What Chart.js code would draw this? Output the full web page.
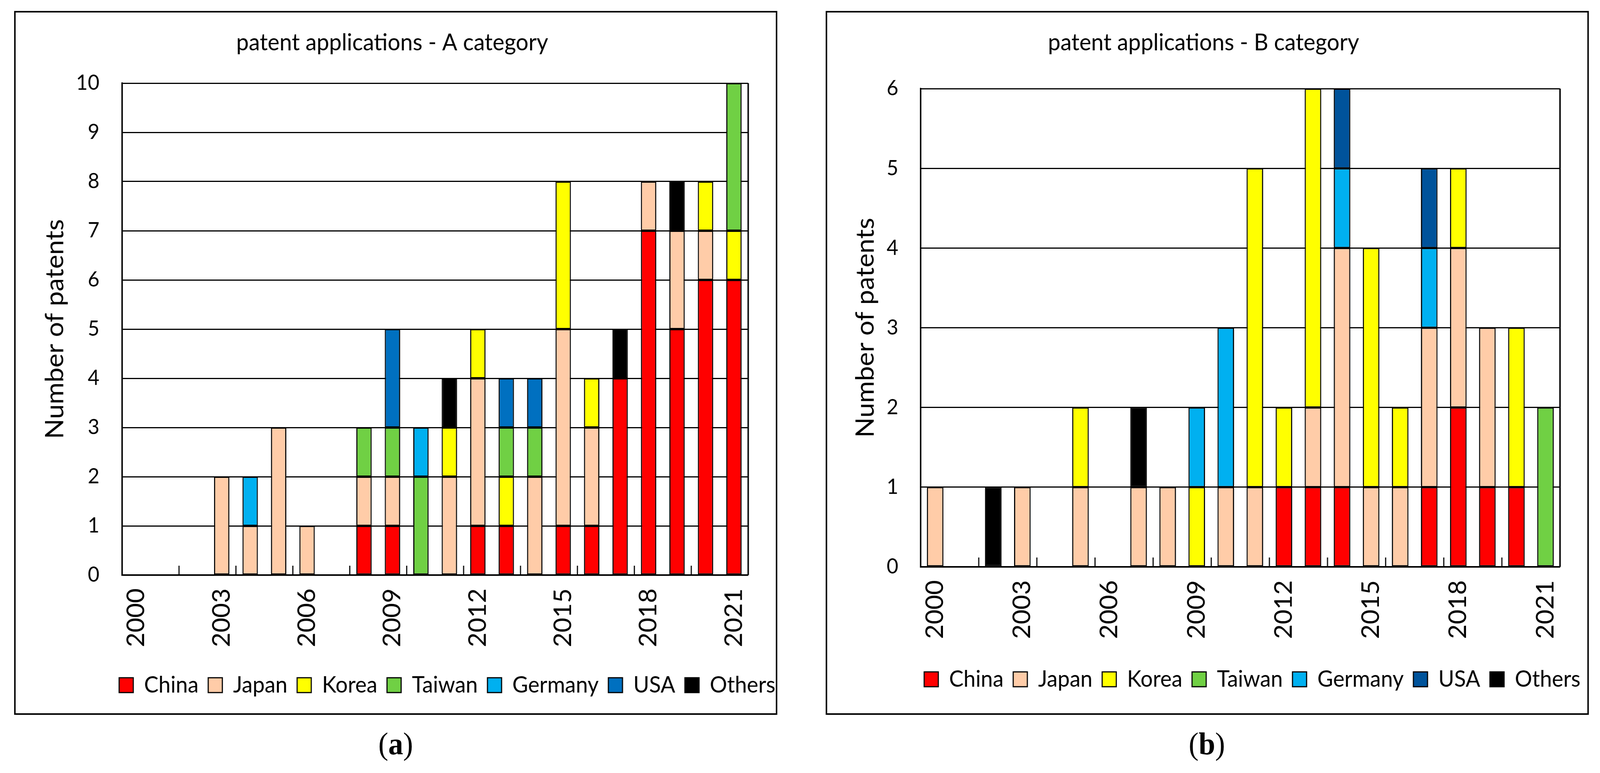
<!DOCTYPE html>
<html lang="en">
<head>
<meta charset="UTF-8">
<title>patent applications</title>
<script src="https://cdn.jsdelivr.net/npm/chart.js"></script>
<style>
  html, body { margin: 0; background: #fff; overflow: hidden; }
  #stage { position: absolute; left: 0; top: 0; width: 4298px; height: 1980px; transform-origin: 0 0; background: #fff; }
  .panel { position: absolute; top: 28px; width: 2050px; height: 1803px; border: 4px solid #000; box-sizing: border-box; background: #fff; }
  .panel canvas { position: absolute; left: 0; top: 0; }
  .caption { position: absolute; top: 1855px; width: 300px; margin-left: -150px; text-align: center;
             font-family: 'Liberation Serif', serif; font-size: 80px; line-height: 100px; color: #000; }
</style>
</head>
<body>
<div id="stage">
  <div class="panel" style="left:38px"><canvas id="chartA" width="2042" height="1795"></canvas></div>
  <div class="panel" style="left:2218px"><canvas id="chartB" width="2042" height="1795"></canvas></div>
  <div class="caption" style="left:1063px">(<b>a</b>)</div>
  <div class="caption" style="left:3242px">(<b>b</b>)</div>
</div>
<script>
const FONT = 'Lato';

const years = ['2000', '2001', '2002', '2003', '2004', '2005', '2006', '2007', '2008', '2009', '2010',
               '2011', '2012', '2013', '2014', '2015', '2016', '2017', '2018', '2019', '2020', '2021'];
const labelEvery = 3;   // only every third year is labelled
const countries = ['China', 'Japan', 'Korea', 'Taiwan', 'Germany', 'USA', 'Others'];

// A category
const chinaA   = [0, 0, 0, 0, 0, 0, 0, 0, 1, 1, 0, 0, 1, 1, 0, 1, 1, 4, 7, 5, 6, 6];
const japanA   = [0, 0, 0, 2, 1, 3, 1, 0, 1, 1, 0, 2, 3, 0, 2, 4, 2, 0, 1, 2, 1, 0];
const koreaA   = [0, 0, 0, 0, 0, 0, 0, 0, 0, 0, 0, 1, 1, 1, 0, 3, 1, 0, 0, 0, 1, 1];
const taiwanA  = [0, 0, 0, 0, 0, 0, 0, 0, 1, 1, 2, 0, 0, 1, 1, 0, 0, 0, 0, 0, 0, 3];
const germanyA = [0, 0, 0, 0, 1, 0, 0, 0, 0, 0, 1, 0, 0, 0, 0, 0, 0, 0, 0, 0, 0, 0];
const usaA     = [0, 0, 0, 0, 0, 0, 0, 0, 0, 2, 0, 0, 0, 1, 1, 0, 0, 0, 0, 0, 0, 0];
const othersA  = [0, 0, 0, 0, 0, 0, 0, 0, 0, 0, 0, 1, 0, 0, 0, 0, 0, 1, 0, 1, 0, 0];

// B category
const chinaB   = [0, 0, 0, 0, 0, 0, 0, 0, 0, 0, 0, 0, 1, 1, 1, 0, 0, 1, 2, 1, 1, 0];
const japanB   = [1, 0, 0, 1, 0, 1, 0, 1, 1, 0, 1, 1, 0, 1, 3, 1, 1, 2, 2, 2, 0, 0];
const koreaB   = [0, 0, 0, 0, 0, 1, 0, 0, 0, 1, 0, 4, 1, 4, 0, 3, 1, 0, 1, 0, 2, 0];
const taiwanB  = [0, 0, 0, 0, 0, 0, 0, 0, 0, 0, 0, 0, 0, 0, 0, 0, 0, 0, 0, 0, 0, 2];
const germanyB = [0, 0, 0, 0, 0, 0, 0, 0, 0, 1, 2, 0, 0, 0, 1, 0, 0, 1, 0, 0, 0, 0];
const usaB     = [0, 0, 0, 0, 0, 0, 0, 0, 0, 0, 0, 0, 0, 0, 1, 0, 0, 1, 0, 0, 0, 0];
const othersB  = [0, 0, 1, 0, 0, 0, 0, 1, 0, 0, 0, 0, 0, 0, 0, 0, 0, 0, 0, 0, 0, 0];

const colorsA = ['#FF0000', '#FFCCA8', '#FFFF00', '#70D044', '#00B0F0', '#0070C0', '#000000'];
const colorsB = ['#FF0000', '#FFCCA8', '#FFFF00', '#70D044', '#00B0F0', '#00539B', '#000000'];

// the layout is drawn at 4298 x 1980 and stretched to the actual window
const sx = window.innerWidth / 4298;
const sy = window.innerHeight / 1980;
document.getElementById('stage').style.transform = 'scale(' + sx + ',' + sy + ')';

// legend centred on the plot rather than on the canvas
const legendShift = {
  id: 'legendShift',
  afterLayout(chart, args, opts) {
    const lg = chart.legend;
    if (lg) { lg.left += opts.dx; lg.right += opts.dx; }
  }
};

// small upward ticks on the x axis, every second category boundary
const innerTicks = {
  id: 'innerTicks',
  beforeDatasetsDraw(chart, args, opts) {
    const { ctx, chartArea, scales: { x } } = chart;
    ctx.save();
    ctx.strokeStyle = '#000';
    ctx.lineWidth = 3;
    for (let i = opts.every; i < chart.data.labels.length; i += opts.every) {
      const px = (x.getPixelForValue(i - 1) + x.getPixelForValue(i)) / 2;
      ctx.beginPath();
      ctx.moveTo(px, chartArea.bottom);
      ctx.lineTo(px, chartArea.bottom - opts.length);
      ctx.stroke();
    }
    ctx.restore();
  }
};

// right side of the plot frame
const frame = {
  id: 'frame',
  beforeDatasetsDraw(chart) {
    const { ctx, chartArea } = chart;
    ctx.save();
    ctx.strokeStyle = '#000';
    ctx.lineWidth = 4;
    ctx.beginPath();
    ctx.moveTo(chartArea.right, chartArea.top);
    ctx.lineTo(chartArea.right, chartArea.bottom);
    ctx.stroke();
    ctx.restore();
  }
};

function makeChart(id, cfg) {
  const datasets = countries.map((name, i) => ({
    label: name,
    data: cfg.series[i].map(v => (v === 0 ? null : v)),   // no empty segments
    backgroundColor: cfg.colors[i],
    borderColor: '#000',
    borderWidth: 3,
    borderSkipped: false,
    barPercentage: cfg.barPct,
    categoryPercentage: 1
  }));

  return new Chart(document.getElementById(id), {
    type: 'bar',
    data: { labels: years, datasets: datasets },
    options: {
      responsive: false,
      devicePixelRatio: 1,
      animation: false,
      layout: { padding: { left: 0, right: cfg.padRight, top: 0, bottom: cfg.padBottom } },
      plugins: {
        title: {
          display: true, text: cfg.title, color: '#000',
          font: { family: FONT, size: 60, weight: 'normal' },
          padding: { top: 42, bottom: cfg.titleBottom }
        },
        legend: {
          position: 'bottom',
          labels: { boxWidth: 38, boxHeight: 38, padding: 26, color: '#000', font: { family: FONT, size: 58 } }
        },
        tooltip: { enabled: false },
        legendShift: { dx: cfg.legendDx },
        innerTicks: { every: 2, length: 24 }
      },
      scales: {
        x: {
          stacked: true,
          grid: { display: false, drawTicks: false },
          border: { display: true, color: '#000', width: 4 },
          ticks: {
            autoSkip: false, maxRotation: 90, minRotation: 90, padding: 34, color: '#000',
            font: { family: FONT, size: 65 },
            callback: (v, i) => (i % labelEvery === 0 ? years[i] : '')
          },
          afterFit: s => { s.height = cfg.xHeight; }
        },
        y: {
          stacked: true, min: 0, max: cfg.yMax,
          ticks: { stepSize: 1, padding: cfg.yPad, color: '#000', font: { family: FONT, size: 54 } },
          grid: { color: '#000', lineWidth: 3, drawTicks: false },
          border: { display: true, color: '#000', width: 4 },
          title: {
            display: true, text: 'Number of patents', color: '#000',
            font: { family: FONT, size: 68 },
            padding: { top: cfg.yTitlePad, bottom: 0 }
          },
          afterFit: s => { s.width = cfg.yWidth; }
        }
      }
    },
    plugins: [legendShift, innerTicks, frame]
  });
}

makeChart('chartA', {
  title: 'patent applications - A category',
  series: [chinaA, japanA, koreaA, taiwanA, germanyA, usaA, othersA],
  colors: colorsA,
  yMax: 10,
  barPct: 0.54,
  padRight: 19, padBottom: 33, titleBottom: 67,
  xHeight: 227, yWidth: 286, yPad: 61, yTitlePad: 65,
  legendDx: 148
});

makeChart('chartB', {
  title: 'patent applications - B category',
  series: [chinaB, japanB, koreaB, taiwanB, germanyB, usaB, othersB],
  colors: colorsB,
  yMax: 6,
  barPct: 0.57,
  padRight: 20, padBottom: 48, titleBottom: 81,
  xHeight: 233, yWidth: 251, yPad: 60, yTitlePad: 62,
  legendDx: 131
});
</script>
</body>
</html>
